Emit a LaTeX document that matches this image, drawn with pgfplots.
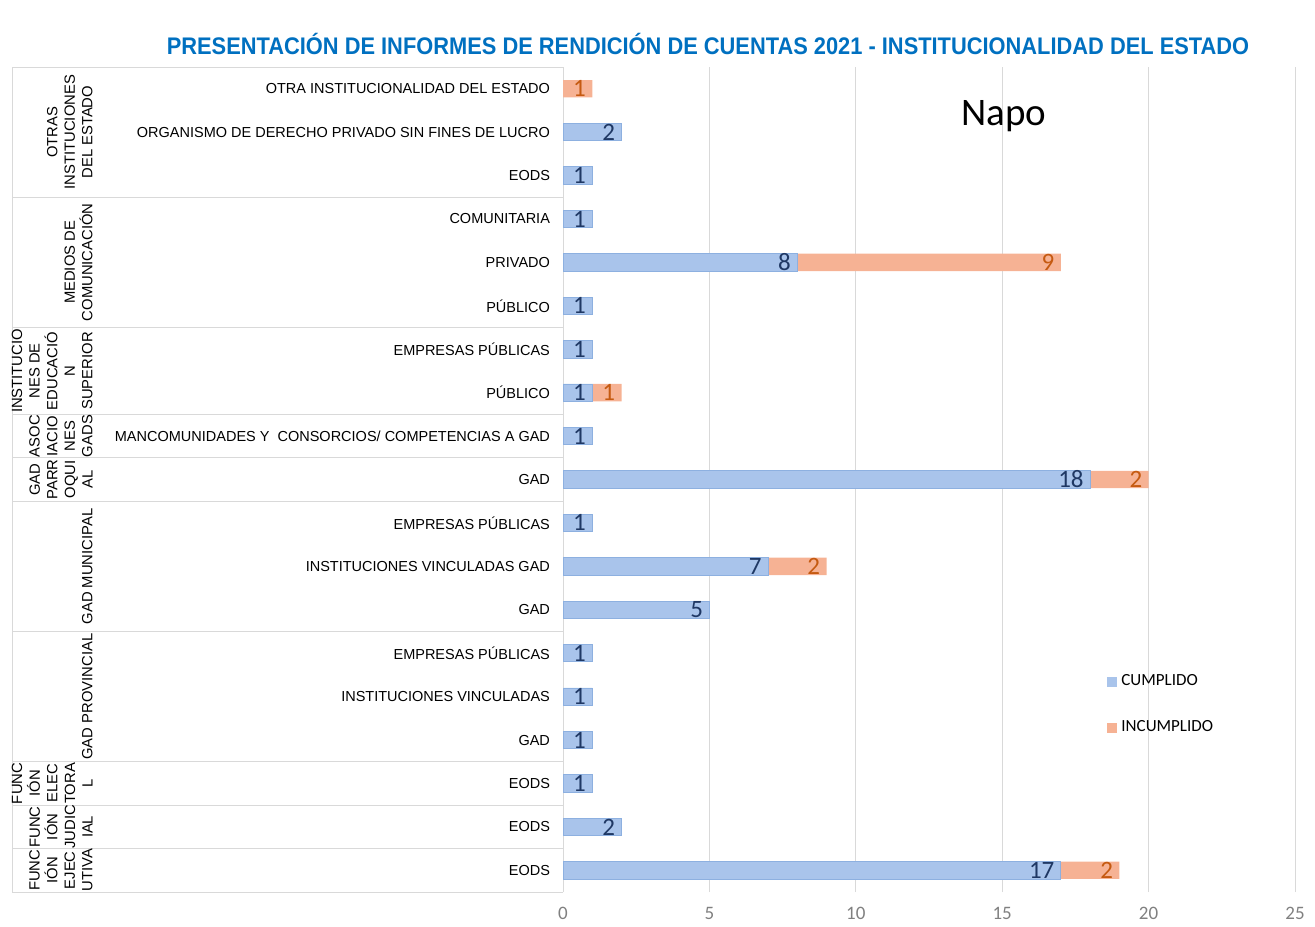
\documentclass[border=0pt]{standalone}
\usepackage{fontspec}
\setmainfont{Liberation Sans}
\newfontfamily\calibri{Carlito}
\usepackage{graphicx}
\usepackage{pgfplots}
\pgfplotsset{compat=1.18}
\definecolor{cumpl}{HTML}{A9C4EB}
\definecolor{cumplB}{HTML}{8DB0E0}
\definecolor{incum}{HTML}{F6B294}
\definecolor{cumplT}{HTML}{1F3864}
\definecolor{incumT}{HTML}{C55A11}
\definecolor{titleblue}{HTML}{0070C0}
\definecolor{gridc}{HTML}{D9D9D9}
\definecolor{tickc}{HTML}{808080}
\begin{document}
\begin{tikzpicture}
\path (0pt,0pt) rectangle (657.5pt,-460.5pt);
\node[font=\bfseries\fontsize{12}{14}\selectfont, text=titleblue] at (354pt,-22pt) {\scalebox{0.91}[1]{PRESENTACIÓN DE INFORMES DE RENDICIÓN DE CUENTAS 2021 - INSTITUCIONALIDAD DEL ESTADO}};
% group frame lines (left label area)
\draw[gridc, line width=0.5pt] (6pt,-33.5pt) -- (6pt,-446pt);
\foreach \r in {-0.5,0.5,1.5,2.5,5.5,8.5,9.5,10.5,12.5,15.5,18.5}{
  \draw[gridc, line width=0.5pt] (6pt,{-446pt+(\r+0.5)*21.7105pt}) -- (281.5pt,{-446pt+(\r+0.5)*21.7105pt});
}
\begin{scope}[every node/.style={rotate=90, anchor=south, inner sep=0pt, align=center, font=\fontsize{7.4}{8.8}\selectfont}]
\foreach \r/\t in {17/{OTRAS\\INSTITUCIONES\\DEL ESTADO},14/{MEDIOS DE\\COMUNICACIÓN},11.5/{INSTITUCIO\\NES DE\\EDUCACIÓ\\N\\SUPERIOR},10/{ASOC\\IACIO\\NES\\GADS},9/{GAD\\PARR\\OQUI\\AL},7/{GAD MUNICIPAL},4/{GAD PROVINCIAL},2/{FUNC\\IÓN\\ELEC\\TORA\\L},1/{FUNC\\IÓN\\JUDIC\\IAL},0/{FUNC\\IÓN\\EJEC\\UTIVA}}{
  \node at (46.5pt,{-446pt+(\r+0.5)*21.7105pt}) {\t};
}
\end{scope}
\begin{axis}[
  at={(281.5pt,-446pt)}, anchor=south west,
  scale only axis, width=366pt, height=412.5pt,
  xbar stacked, bar width=0.4,
  xmin=0, xmax=25, ymin=-0.5, ymax=18.5,
  xtick={0,5,...,25}, ytick={0,...,18},
  major tick length=0pt,
  axis line style={draw=none},
  xmajorgrids, grid style={gridc, line width=0.5pt},
  clip=false,
  /pgf/number format/assume math mode=true,
  xticklabel style={font=\calibri\fontsize{9.5}{11}\selectfont, text=tickc, yshift=-4pt},
  yticklabel style={font=\fontsize{7.25}{9}\selectfont, xshift=-3pt},
  yticklabels={EODS,EODS,EODS,GAD,INSTITUCIONES VINCULADAS,EMPRESAS PÚBLICAS,GAD,INSTITUCIONES VINCULADAS GAD,EMPRESAS PÚBLICAS,GAD,MANCOMUNIDADES Y\ \ CONSORCIOS/ COMPETENCIAS A GAD,PÚBLICO,EMPRESAS PÚBLICAS,PÚBLICO,PRIVADO,COMUNITARIA,EODS,ORGANISMO DE DERECHO PRIVADO SIN FINES DE LUCRO,OTRA INSTITUCIONALIDAD DEL ESTADO},
  point meta=explicit symbolic,
  visualization depends on={rawx \as \rawx},
  every node near coord/.append style={anchor=east, font=\calibri\fontsize{12.5}{15}\selectfont, inner sep=0.5pt, xshift={\rawx*7.32pt-2.5pt}},
  legend image code/.code={\draw[#1,draw=none] (0pt,-2.5pt) rectangle (5pt,2.5pt);},
  legend style={at={(rel axis cs:0.735,0.227)}, anchor=west, draw=none, fill=none, font=\calibri\fontsize{8.5}{10}\selectfont, row sep=12pt, legend cell align=left},
]
\addplot[fill=cumpl, draw=cumplB, line width=0.4pt, nodes near coords={\color{cumplT}\pgfplotspointmeta}] coordinates {
(17,0) [17] (2,1) [2] (1,2) [1] (1,3) [1] (1,4) [1] (1,5) [1] (5,6) [5] (7,7) [7] (1,8) [1] (18,9) [18]
(1,10) [1] (1,11) [1] (1,12) [1] (1,13) [1] (8,14) [8] (1,15) [1] (1,16) [1] (2,17) [2] (0,18) []
};
\addplot[fill=incum, draw=none, nodes near coords={\color{incumT}\pgfplotspointmeta}] coordinates {
(2,0) [2] (0,1) [] (0,2) [] (0,3) [] (0,4) [] (0,5) [] (0,6) [] (2,7) [2] (0,8) [] (2,9) [2]
(0,10) [] (1,11) [1] (0,12) [] (0,13) [] (9,14) [9] (0,15) [] (0,16) [] (0,17) [] (1,18) [1]
};
\legend{CUMPLIDO,INCUMPLIDO}
\end{axis}
\node[font=\calibri\fontsize{19.5}{22}\selectfont] at (502pt,-58pt) {Napo};
\end{tikzpicture}
\end{document}
